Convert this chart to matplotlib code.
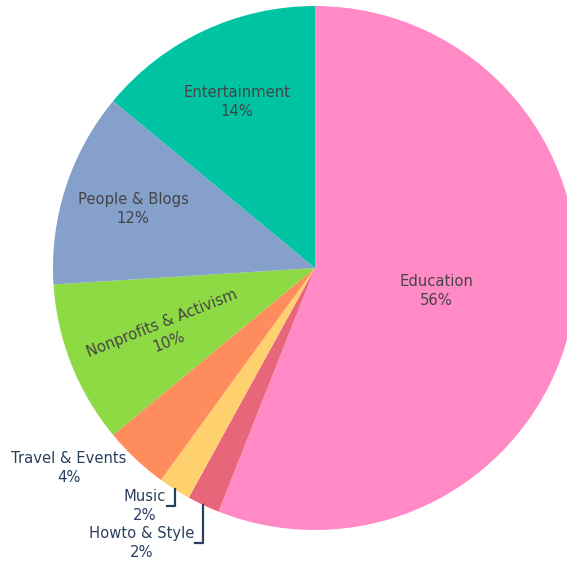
import numpy as np
import matplotlib
matplotlib.use("Agg")
import matplotlib.pyplot as plt

categorias = ["Education", "Howto & Style", "Music", "Travel & Events",
              "Nonprofits & Activism", "People & Blogs", "Entertainment"]
porcentajes = [56, 2, 2, 4, 10, 12, 14]
colores = ["#FF8AC6", "#E8667A", "#FFD16E", "#FF8C5C",
           "#8EDA45", "#86A0CC", "#00C3A3"]

# distancia radial de las etiquetas interiores (None = etiqueta exterior)
dist_interior = [0.47, None, None, None, 0.63, 0.73, 0.70]

W, H = 567, 562
fig = plt.figure(figsize=(W / 100, H / 100), dpi=100)
ax = fig.add_axes([0, 0, 1, 1])

cx, cy, R = 315, H - 268, 262
wedges, _ = ax.pie(porcentajes, colors=colores, startangle=90,
                   counterclock=False, center=(cx, cy), radius=R,
                   wedgeprops=dict(linewidth=0))
ax.set_xlim(0, W)
ax.set_ylim(0, H)
ax.set_aspect("equal")
ax.axis("off")

fs = 10.6
gris = "#444444"
azul = "#2a3f5f"

for w, cat, pct, d in zip(wedges, categorias, porcentajes, dist_interior):
    ang = np.deg2rad((w.theta1 + w.theta2) / 2)
    txt = "%s\n%d%%" % (cat, pct)
    if d is not None:
        x = cx + d * R * np.cos(ang)
        y = cy + d * R * np.sin(ang)
        rot = 0
        if cat == "Nonprofits & Activism":
            rot = np.rad2deg(ang) - 180
            x += 4
            y -= 4
        ax.text(x, y, txt, ha="center", va="center", fontsize=fs, color=gris,
                rotation=rot, rotation_mode="anchor", linespacing=1.35)

# etiquetas exteriores
ext = {
    "Travel & Events": (69, 468, "center", 0),
    "Music": (145, 506, "center", 8),
    "Howto & Style": (142, 543, "center", 8),
}
for w, cat, pct in zip(wedges, categorias, porcentajes):
    if cat not in ext:
        continue
    lx, ly, ha, gap = ext[cat]
    ax.text(lx, H - ly, "%s\n%d%%" % (cat, pct), ha=ha, va="center",
            fontsize=fs, color=azul, linespacing=1.35)
    if gap:
        ang = np.deg2rad((w.theta1 + w.theta2) / 2)
        ex = cx + R * np.cos(ang)
        ey = cy + R * np.sin(ang)
        ax.plot([ex, ex, ex - gap], [ey, H - ly, H - ly], color=azul, lw=1.6)

fig.savefig("out.png", dpi=100)
